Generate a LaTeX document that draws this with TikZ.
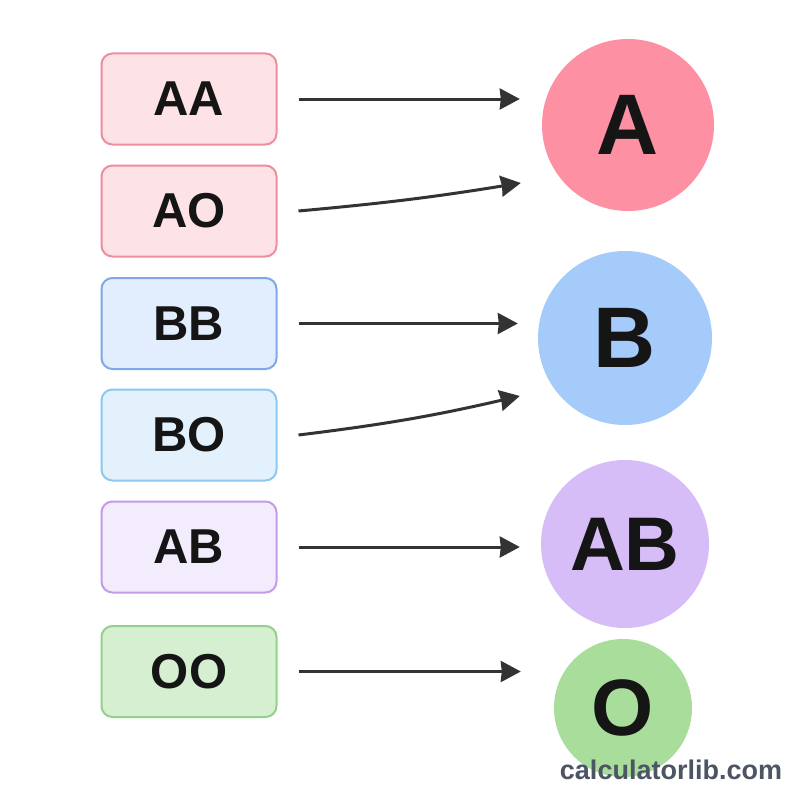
\documentclass[tikz,border=0pt]{standalone}
\usepackage{fontspec}
\setmainfont{Liberation Sans}
\usetikzlibrary{arrows.meta,calc}
\definecolor{pinkline}{HTML}{F08CA0}
\definecolor{pinkfill}{HTML}{FDE3E6}
\definecolor{pinkdot}{HTML}{FD90A3}
\definecolor{blueline}{HTML}{7FA8E8}
\definecolor{bluefill}{HTML}{E2EEFD}
\definecolor{skyline}{HTML}{8CC8EF}
\definecolor{skyfill}{HTML}{E3F1FC}
\definecolor{bluedot}{HTML}{A5CBFA}
\definecolor{lilacline}{HTML}{C39BE8}
\definecolor{lilacfill}{HTML}{F3ECFD}
\definecolor{lilacdot}{HTML}{D7BDF7}
\definecolor{greenline}{HTML}{93D18A}
\definecolor{greenfill}{HTML}{D5EFD0}
\definecolor{greendot}{HTML}{A9DD9B}
\definecolor{arrowgray}{HTML}{333333}
\definecolor{markgray}{HTML}{4B5563}
\definecolor{ink}{HTML}{151515}
\begin{document}
\begin{tikzpicture}[x=1pt, y=-1pt,
    >={Stealth[length=20pt, width=21pt, inset=1pt]},
    geno/.style={draw, rectangle, rounded corners=11pt, line width=2pt,
        minimum width=175pt, minimum height=91pt, text=ink,
        font=\bfseries\fontsize{49}{52}\selectfont},
    pheno/.style={circle, minimum size=172pt, inner sep=0pt, text=ink,
        font=\fontsize{86}{90}\selectfont\bfseries},
    arr/.style={->, line width=3pt, draw=arrowgray}]
    \useasboundingbox[fill=white] (0,0) rectangle (800,800);
    % genotypes
    \node[geno, draw=pinkline, fill=pinkfill] (aa) at (189,99) {AA};
    \node[geno, draw=pinkline, fill=pinkfill] (ao) at (189,211) {AO};
    \node[geno, draw=blueline, fill=bluefill] (bb) at (189,323.5) {BB};
    \node[geno, draw=skyline, fill=skyfill] (bo) at (189,435) {BO};
    \node[geno, draw=lilacline, fill=lilacfill] (abg) at (189,547) {AB};
    \node[geno, draw=greenline, fill=greenfill] (oo) at (189,671.5) {OO};
    % blood groups
    \node[pheno, fill=pinkdot] (a) at (628,125) {A};
    \node[pheno, fill=bluedot, minimum size=174pt] (b) at (625,338) {B};
    \node[pheno, fill=lilacdot, minimum size=168pt,
        font=\fontsize{76}{80}\selectfont\bfseries] (ab) at (625,544) {AB};
    \node[pheno, fill=greendot, minimum size=138pt,
        font=\fontsize{80}{84}\selectfont\bfseries] (o) at (623,708) {O};
    % arrows
    \draw[arr] ([xshift=21pt]aa.east) -- ($(aa.east -| a.west)+(-22,0)$);
    \draw[arr] ([xshift=21pt]ao.east) to[bend right=2] ($(a.west)+(-21,58)$);
    \draw[arr] ([xshift=21pt]bb.east) -- ($(bb.east -| b.west)+(-20,0)$);
    \draw[arr] ([xshift=21pt]bo.east) to[bend right=3] ($(b.west)+(-18,58)$);
    \draw[arr] ([xshift=21pt]abg.east) -- ($(abg.east -| ab.west)+(-21,0)$);
    \draw[arr] ([xshift=21pt]oo.east) -- ($(oo.east -| o.west)+(-33,0)$);
    \node[text=markgray, font=\bfseries\fontsize{27}{30}\selectfont]
        (mark) at (671,770) {calculatorlib.com};
\end{tikzpicture}
\end{document}
